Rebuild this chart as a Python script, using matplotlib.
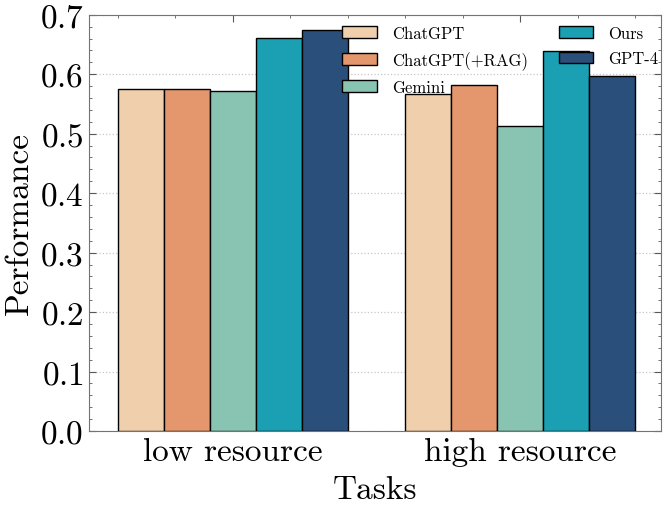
import numpy as np
import matplotlib.pyplot as plt
from matplotlib.ticker import AutoMinorLocator, MultipleLocator

# Performance per task group
tasks = ['low resource', 'high resource']
models = ['ChatGPT', 'ChatGPT(+RAG)', 'Gemini', 'Ours', 'GPT-4']
scores = {
    'ChatGPT':       [0.575, 0.567],
    'ChatGPT(+RAG)': [0.576, 0.582],
    'Gemini':        [0.572, 0.513],
    'Ours':          [0.661, 0.639],
    'GPT-4':         [0.675, 0.597],
}
colors = ['#F0D0AC', '#E4966C', '#89C4B2', '#1A9FB3', '#2A4F7A']

plt.rcParams['font.family'] = 'serif'
plt.rcParams['font.serif'] = ['cmr10']
plt.rcParams['mathtext.fontset'] = 'cm'
plt.rcParams['axes.formatter.use_mathtext'] = True

fig = plt.figure(figsize=(6.65, 5.1), dpi=100)
ax = fig.add_axes([0.134, 0.153, 0.860, 0.816])

x = np.arange(len(tasks))
width = 0.16
for i, (m, c) in enumerate(zip(models, colors)):
    ax.bar(x + (i - 2) * width, scores[m], width, color=c,
           edgecolor='black', linewidth=1.0, label=m, zorder=3)

ax.set_xlim(-0.5, 1.49)
ax.set_ylim(0, 0.7)
ax.set_xticks(x)
ax.set_xticklabels(tasks)
ax.yaxis.set_major_locator(MultipleLocator(0.1))
ax.xaxis.set_minor_locator(MultipleLocator(0.2))
ax.yaxis.set_minor_locator(AutoMinorLocator(5))

ax.tick_params(which='both', direction='in', top=True, right=True,
               color='0.35', labelsize=24, pad=4)
ax.tick_params(which='major', length=5, width=0.8)
ax.tick_params(which='minor', length=2.5, width=0.6)
for s in ax.spines.values():
    s.set_color('0.45')
    s.set_linewidth(0.8)

ax.grid(True, axis='y', linestyle=':', color='0.78', linewidth=0.9, zorder=0)

ax.set_xlabel('Tasks', fontsize=24, labelpad=7)
ax.set_ylabel('Performance', fontsize=24, labelpad=4)

ax.legend(ncol=2, loc='upper right', bbox_to_anchor=(1.022, 1.01),
          frameon=False, fontsize=12,
          handlelength=2.05, handleheight=0.7, handletextpad=0.9,
          columnspacing=1.9, labelspacing=0.6)

fig.savefig('out.png', dpi=100)
